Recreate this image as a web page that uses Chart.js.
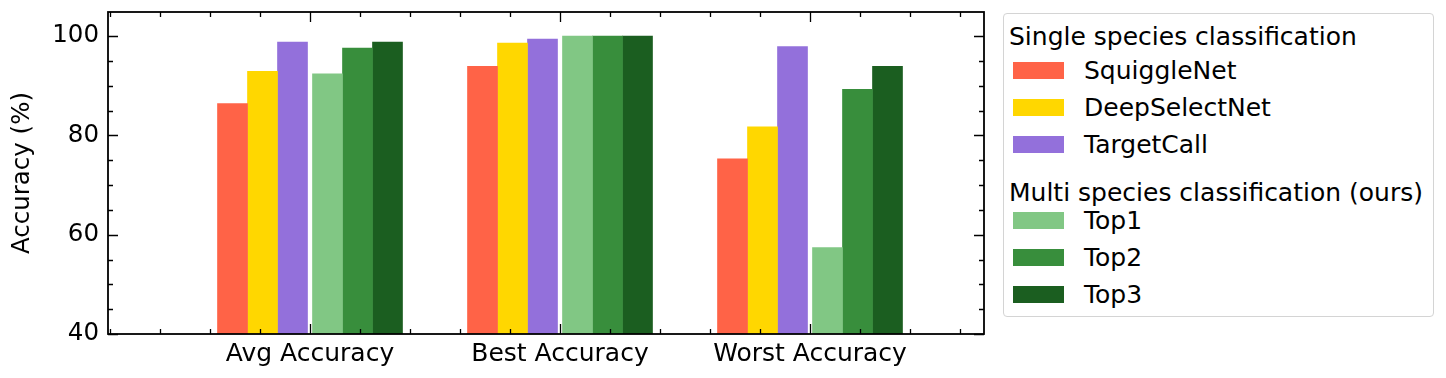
<!DOCTYPE html>
<html>
<head>
<meta charset="utf-8">
<script src="https://cdn.jsdelivr.net/npm/chart.js@4"></script>
<style>
  body { margin: 0; background: #fff; font-family: 'DejaVu Sans', sans-serif; }
  #wrap { position: relative; width: 1446px; height: 378px; }
  #grafico { position: absolute; left: 0; top: 0; }
  #legenda {
    position: absolute; left: 1003px; top: 13px; width: 431px; height: 304px;
    box-sizing: border-box; border: 1.5px solid #d4d4d4; border-radius: 4px;
    padding: 8px 0 0 0; font-size: 25px; color: #000;
  }
  .titulo { padding-left: 5px; white-space: nowrap; }
  .item { display: flex; align-items: center; height: 37px; padding-left: 9px; }
  .item span.cor { width: 51px; height: 17px; margin-right: 20px; }
</style>
</head>
<body>
<div id="wrap">
  <canvas id="grafico" width="1000" height="378"></canvas>
  <div id="legenda"></div>
</div>
<script>
// Dados
const categories = ['Avg Accuracy', 'Best Accuracy', 'Worst Accuracy'];
const squiggleNet = [86.4, 93.9, 75.3];
const deepSelectNet = [92.9, 98.6, 81.7];
const targetCall = [98.8, 99.4, 97.9];
const top1 = [92.4, 100, 57.4];
const top2 = [97.6, 100, 89.3];
const top3 = [98.8, 100, 93.9];
const yTicks = [40, 60, 80, 100];

const singleNames = ['SquiggleNet', 'DeepSelectNet', 'TargetCall'];
const multiNames = ['Top1', 'Top2', 'Top3'];
const cores = ['#FF6347', '#FFD700', '#9370DB', '#81C784', '#388E3C', '#1B5E20'];

// Deslocamento de cada barra em relação ao centro da categoria
const deslocamentos = [-0.31, -0.19, -0.07, 0.07, 0.19, 0.31];

const series = [squiggleNet, deepSelectNet, targetCall, top1, top2, top3];
const nomes = singleNames.concat(multiNames);

const datasets = series.map((valores, k) => ({
    label: nomes[k],
    data: valores.map((v, i) => ({ x: i + deslocamentos[k], y: v })),
    backgroundColor: cores[k],
    borderWidth: 0,
    barThickness: 30,
    grouped: false
}));

// Marcas de escala para dentro nos quatro lados, estilo matplotlib
const molduraPlugin = {
    id: 'moldura',
    afterDraw(chart) {
        const ctx = chart.ctx;
        const a = chart.chartArea;
        const xs = chart.scales.x;
        const ys = chart.scales.y;
        ctx.save();
        ctx.strokeStyle = '#000';
        ctx.lineWidth = 1.3;
        ctx.beginPath();
        // y maiores e menores
        for (let v = 40; v <= 105; v += 5) {
            const len = yTicks.includes(v) ? 10 : 5;
            const py = Math.round(ys.getPixelForValue(v)) + 0.5;
            if (py < a.top) continue;
            ctx.moveTo(a.left, py); ctx.lineTo(a.left + len, py);
            ctx.moveTo(a.right, py); ctx.lineTo(a.right - len, py);
        }
        // x maiores e menores
        for (let k = -4; k <= 13; k++) {
            const v = k * 0.2;
            const maior = Math.abs(v - Math.round(v)) < 1e-6 && v >= 0;
            const len = maior ? 10 : 5;
            const px = Math.round(xs.getPixelForValue(v)) + 0.5;
            if (px < a.left || px > a.right) continue;
            ctx.moveTo(px, a.bottom); ctx.lineTo(px, a.bottom - len);
            ctx.moveTo(px, a.top); ctx.lineTo(px, a.top + len);
        }
        ctx.stroke();
        ctx.lineWidth = 1.8;
        ctx.strokeRect(a.left, a.top, a.right - a.left, a.bottom - a.top);
        ctx.restore();
    }
};

const ctx = document.getElementById('grafico').getContext('2d');
new Chart(ctx, {
    type: 'bar',
    data: { datasets: datasets },
    options: {
        responsive: false,
        animation: false,
        layout: { padding: { left: 0, top: 12, right: 16, bottom: 0 } },
        plugins: {
            legend: { display: false },
            tooltip: { enabled: false }
        },
        scales: {
            x: {
                type: 'linear',
                min: -0.808,
                max: 2.696,
                offset: false,
                grid: { display: false, drawTicks: false, offset: false },
                border: { display: false },
                afterBuildTicks: (scale) => {
                    scale.ticks = categories.map((c, i) => ({ value: i }));
                },
                afterFit: (scale) => {
                    scale.height = 44;
                    scale.paddingLeft = 0;
                    scale.paddingRight = 0;
                },
                ticks: {
                    autoSkip: false,
                    maxRotation: 0,
                    padding: 5,
                    color: '#000',
                    font: { family: "'DejaVu Sans'", size: 25 },
                    callback: (value) => categories[value]
                }
            },
            y: {
                min: 40,
                max: 104.85,
                grid: { display: false, drawTicks: false },
                border: { display: false },
                afterBuildTicks: (scale) => {
                    scale.ticks = yTicks.map(v => ({ value: v }));
                },
                afterFit: (scale) => {
                    scale.width = 108;
                    scale.paddingTop = 0;
                    scale.paddingBottom = 0;
                },
                title: {
                    display: true,
                    text: 'Accuracy (%)',
                    color: '#000',
                    padding: { top: 8, bottom: 0 },
                    font: { family: "'DejaVu Sans'", size: 24.5 }
                },
                ticks: {
                    padding: 9,
                    color: '#000',
                    font: { family: "'DejaVu Sans'", size: 24.5 }
                }
            }
        }
    },
    plugins: [molduraPlugin]
});

// Legenda em HTML com os dois grupos
const legenda = document.getElementById('legenda');
function adicionarTitulo(texto, estilo) {
    const d = document.createElement('div');
    d.className = 'titulo';
    d.textContent = texto;
    Object.assign(d.style, estilo);
    legenda.appendChild(d);
}
function adicionarItem(nome, cor, estilo) {
    const d = document.createElement('div');
    d.className = 'item';
    const c = document.createElement('span');
    c.className = 'cor';
    c.style.background = cor;
    const t = document.createElement('span');
    t.textContent = nome;
    d.appendChild(c);
    d.appendChild(t);
    Object.assign(d.style, estilo || {});
    legenda.appendChild(d);
}
adicionarTitulo('Single species classification', { height: '30px', lineHeight: '30px' });
singleNames.forEach((n, k) => adicionarItem(n, cores[k]));
adicionarTitulo('Multi species classification (ours)', { height: '24px', lineHeight: '24px', marginTop: '18px' });
multiNames.forEach((n, k) => adicionarItem(n, cores[k + 3], k === 0 ? { marginTop: '-3px' } : {}));
</script>
</body>
</html>
